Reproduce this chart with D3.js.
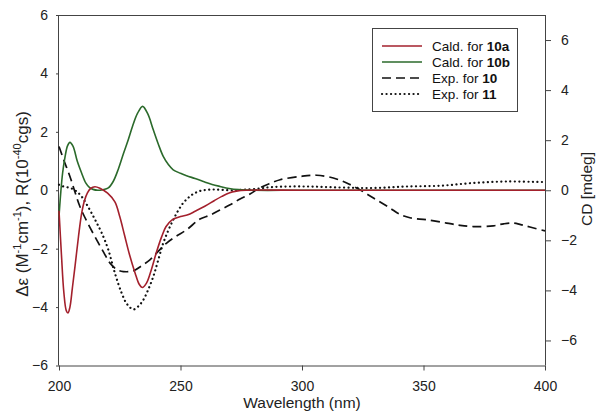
<!DOCTYPE html>
<html><head><meta charset="utf-8">
<script src="https://cdn.jsdelivr.net/npm/d3@7"></script>
<style>
body{margin:0;background:#fff;}
svg{display:block;font-family:"Liberation Sans",Arial,sans-serif;}
</style></head>
<body><svg id="c" width="601" height="412"></svg>
<script>
// Cald. for 10a (left axis, Δε)
const red10a = [[200,-0.7],[201,-2.2],[202,-3.5],[203,-4.12],[203.7,-4.2],[204.5,-4.0],[205.5,-3.35],[206.6,-2.6],[208,-1.6],[209.3,-0.8],[210.5,-0.35],[211.7,-0.09],[213,0.06],[214.8,0.12],[217,0.06],[220,-0.1],[223,-0.4],[225,-0.9],[227,-1.55],[229,-2.2],[231.3,-2.83],[233,-3.22],[234.3,-3.33],[236,-3.18],[238,-2.72],[240,-2.15],[242.3,-1.58],[244,-1.25],[246.4,-1.02],[250,-0.9],[253,-0.84],[256,-0.72],[260,-0.55],[264,-0.35],[267,-0.21],[270,-0.09],[273,-0.03],[277,0],[300,0],[350,0],[400,0]];
// Cald. for 10b (left axis)
const green10b = [[200,-0.9],[200.7,-0.1],[201.5,0.6],[202.5,1.15],[203.5,1.52],[204.5,1.64],[205.8,1.5],[207.5,1.0],[209.3,0.59],[211,0.25],[212.5,0.1],[214,0.03],[216,0],[218,0.02],[220.3,0.08],[222.3,0.3],[224.4,0.72],[226.5,1.25],[228.5,1.73],[230.3,2.2],[232.3,2.63],[234.4,2.87],[236.5,2.62],[238.8,2.07],[241,1.55],[242.9,1.16],[245,0.88],[247,0.7],[250,0.58],[252.5,0.5],[256,0.4],[259.4,0.3],[263,0.2],[266.3,0.13],[270,0.06],[274,0.02],[280,0],[300,0],[350,0],[400,0]];
// Exp. for 10 (right axis, mdeg)
const exp10 = [[200,1.75],[202,1.2],[204.5,0.55],[206.5,-0.05],[208.6,-0.65],[212,-1.35],[215.5,-1.98],[218.5,-2.5],[221,-2.91],[224,-3.18],[226.5,-3.25],[230.6,-3.22],[234,-3.02],[237.4,-2.78],[241,-2.42],[244.3,-2.11],[248,-1.85],[252.5,-1.58],[258,-1.15],[262,-1.0],[266,-0.8],[270.4,-0.58],[274.5,-0.35],[278.6,-0.15],[282.7,0.1],[287,0.28],[291,0.42],[299.2,0.55],[306,0.6],[312.9,0.49],[318.4,0.29],[322.5,0.09],[329.4,-0.31],[336.2,-0.71],[340,-0.95],[344.4,-1.1],[351.3,-1.18],[359.5,-1.31],[365,-1.4],[370.5,-1.45],[378.7,-1.42],[383,-1.34],[387,-1.31],[390,-1.37],[393.8,-1.47],[400,-1.62]];
// Exp. for 11 (right axis, mdeg)
const exp11 = [[200,0.22],[201.1,0.17],[203,0.13],[205.2,0.07],[207.3,-0.05],[209.3,-0.25],[211.3,-0.55],[213.4,-0.91],[215.5,-1.3],[217.6,-1.71],[220.3,-2.38],[223,-3.31],[225.8,-4.11],[228,-4.55],[230.6,-4.76],[232.5,-4.65],[234.7,-4.38],[236.8,-3.95],[238.8,-3.45],[240.8,-2.8],[242.9,-2.11],[245,-1.6],[247,-1.18],[249,-0.82],[251.1,-0.51],[253.2,-0.3],[255.2,-0.15],[258,-0.03],[261,0.02],[264.2,0.03],[268,0.01],[272.4,0],[276,0.02],[280.7,0.05],[288,0.13],[301.7,0.15],[315.6,0.11],[329.4,0.09],[343,0.15],[356.8,0.18],[370.5,0.29],[384.2,0.35],[397.9,0.33],[400,0.33]];

const xTicks = [200,250,300,350,400];
const yLeftTicks = [-6,-4,-2,0,2,4,6];
const yRightTicks = [-6,-4,-2,0,2,4,6];
const legendItems = [
  {pre:"Cald.  for ", bold:"10a", key:"red"},
  {pre:"Cald.  for ", bold:"10b", key:"green"},
  {pre:"Exp.  for ", bold:"10", key:"dash"},
  {pre:"Exp.  for ", bold:"11", key:"dot"}
];

const L=59, R=545, T=15, B=365.5;
const svg = d3.select("#c");
const x = d3.scaleLinear().domain([200,400]).range([L,R]);
const yL = d3.scaleLinear().domain([-6,6]).range([B,T]);
const yR = d3.scaleLinear().domain([-7,7]).range([B,T]);

const styles = {
  red:{stroke:"#a3202c", width:1.6, dash:null, cap:"butt"},
  green:{stroke:"#2b6a2b", width:1.6, dash:null, cap:"butt"},
  dash:{stroke:"#111", width:1.7, dash:"9,5", cap:"butt"},
  dot:{stroke:"#111", width:2.2, dash:"0.1,4.4", cap:"round"}
};

const axisColor = "#444";
svg.append("line").attr("x1",L).attr("x2",R).attr("y1",T+0.5).attr("y2",T+0.5).attr("stroke",axisColor);

function styleAxis(g){
  g.select(".domain").attr("stroke",axisColor);
  g.selectAll(".tick line").attr("stroke",axisColor);
  g.selectAll(".tick text").attr("fill","#222").style("font-size","14px").style("font-family","'Liberation Sans',Arial,sans-serif");
}

const gx = svg.append("g").attr("transform",`translate(0,${B})`)
  .call(d3.axisBottom(x).tickValues(xTicks).tickSize(5).tickSizeOuter(0).tickPadding(11).tickFormat(d3.format("d")));
styleAxis(gx);
const gl = svg.append("g").attr("transform",`translate(${L},0)`)
  .call(d3.axisLeft(yL).tickValues(yLeftTicks).tickSize(3).tickSizeOuter(0).tickPadding(8).tickFormat(d3.format("d")));
styleAxis(gl);
const gr = svg.append("g").attr("transform",`translate(${R},0)`)
  .call(d3.axisRight(yR).tickValues(yRightTicks).tickSize(6).tickSizeOuter(0).tickPadding(10).tickFormat(d3.format("d")));
styleAxis(gr);
gr.select(".domain").attr("d",`M0.5,${T}V${B}`);
gl.select(".domain").attr("d",`M-0.5,${T}V${B}`);
gx.select(".domain").attr("d",`M${L},0.5H${R}`);

const lineL = d3.line().x(d=>x(d[0])).y(d=>yL(d[1])).curve(d3.curveCatmullRom.alpha(0.5));
const lineR = d3.line().x(d=>x(d[0])).y(d=>yR(d[1])).curve(d3.curveCatmullRom.alpha(0.5));

function draw(data, gen, key){
  const s = styles[key];
  svg.append("path").datum(data).attr("d",gen).attr("fill","none")
    .attr("stroke",s.stroke).attr("stroke-width",s.width)
    .attr("stroke-dasharray",s.dash).attr("stroke-linecap",s.cap);
}
draw(exp11, lineR, "dot");
draw(exp10, lineR, "dash");
draw(green10b, lineL, "green");
draw(red10a, lineL, "red");

svg.append("text").attr("x",302).attr("y",408).attr("text-anchor","middle")
  .style("font-size","15.5px").attr("fill","#222").text("Wavelength (nm)");

const lt = svg.append("text").attr("transform",`translate(28,204) rotate(-90)`)
  .attr("text-anchor","middle").style("font-size","17px").attr("fill","#222");
lt.append("tspan").text("Δε (M");
lt.append("tspan").attr("dy",-7).style("font-size","11px").text("-1");
lt.append("tspan").attr("dy",7).text("cm");
lt.append("tspan").attr("dy",-7).style("font-size","11px").text("-1");
lt.append("tspan").attr("dy",7).text("), R(10");
lt.append("tspan").attr("dy",-7).style("font-size","11px").text("-40");
lt.append("tspan").attr("dy",7).text("cgs)");

svg.append("text").attr("transform",`translate(592,189) rotate(-90)`)
  .attr("text-anchor","middle").style("font-size","15.5px").attr("fill","#222").text("CD [mdeg]");

const lg = svg.append("g");
lg.append("rect").attr("x",372.5).attr("y",28.5).attr("width",145).attr("height",83)
  .attr("fill","#fff").attr("stroke","#444").attr("stroke-width",1);
legendItems.forEach((it,i)=>{
  const yy = 46 + i*16;
  const s = styles[it.key];
  lg.append("line").attr("x1",382).attr("x2",422).attr("y1",yy).attr("y2",yy)
    .attr("stroke",s.stroke).attr("stroke-width",s.width).attr("stroke-dasharray",s.dash).attr("stroke-linecap",s.cap);
  const t = lg.append("text").attr("x",432).attr("y",yy+5).style("font-size","13.5px").attr("fill","#111");
  t.append("tspan").text(it.pre);
  t.append("tspan").style("font-weight","bold").text(it.bold);
});
</script></body></html>
